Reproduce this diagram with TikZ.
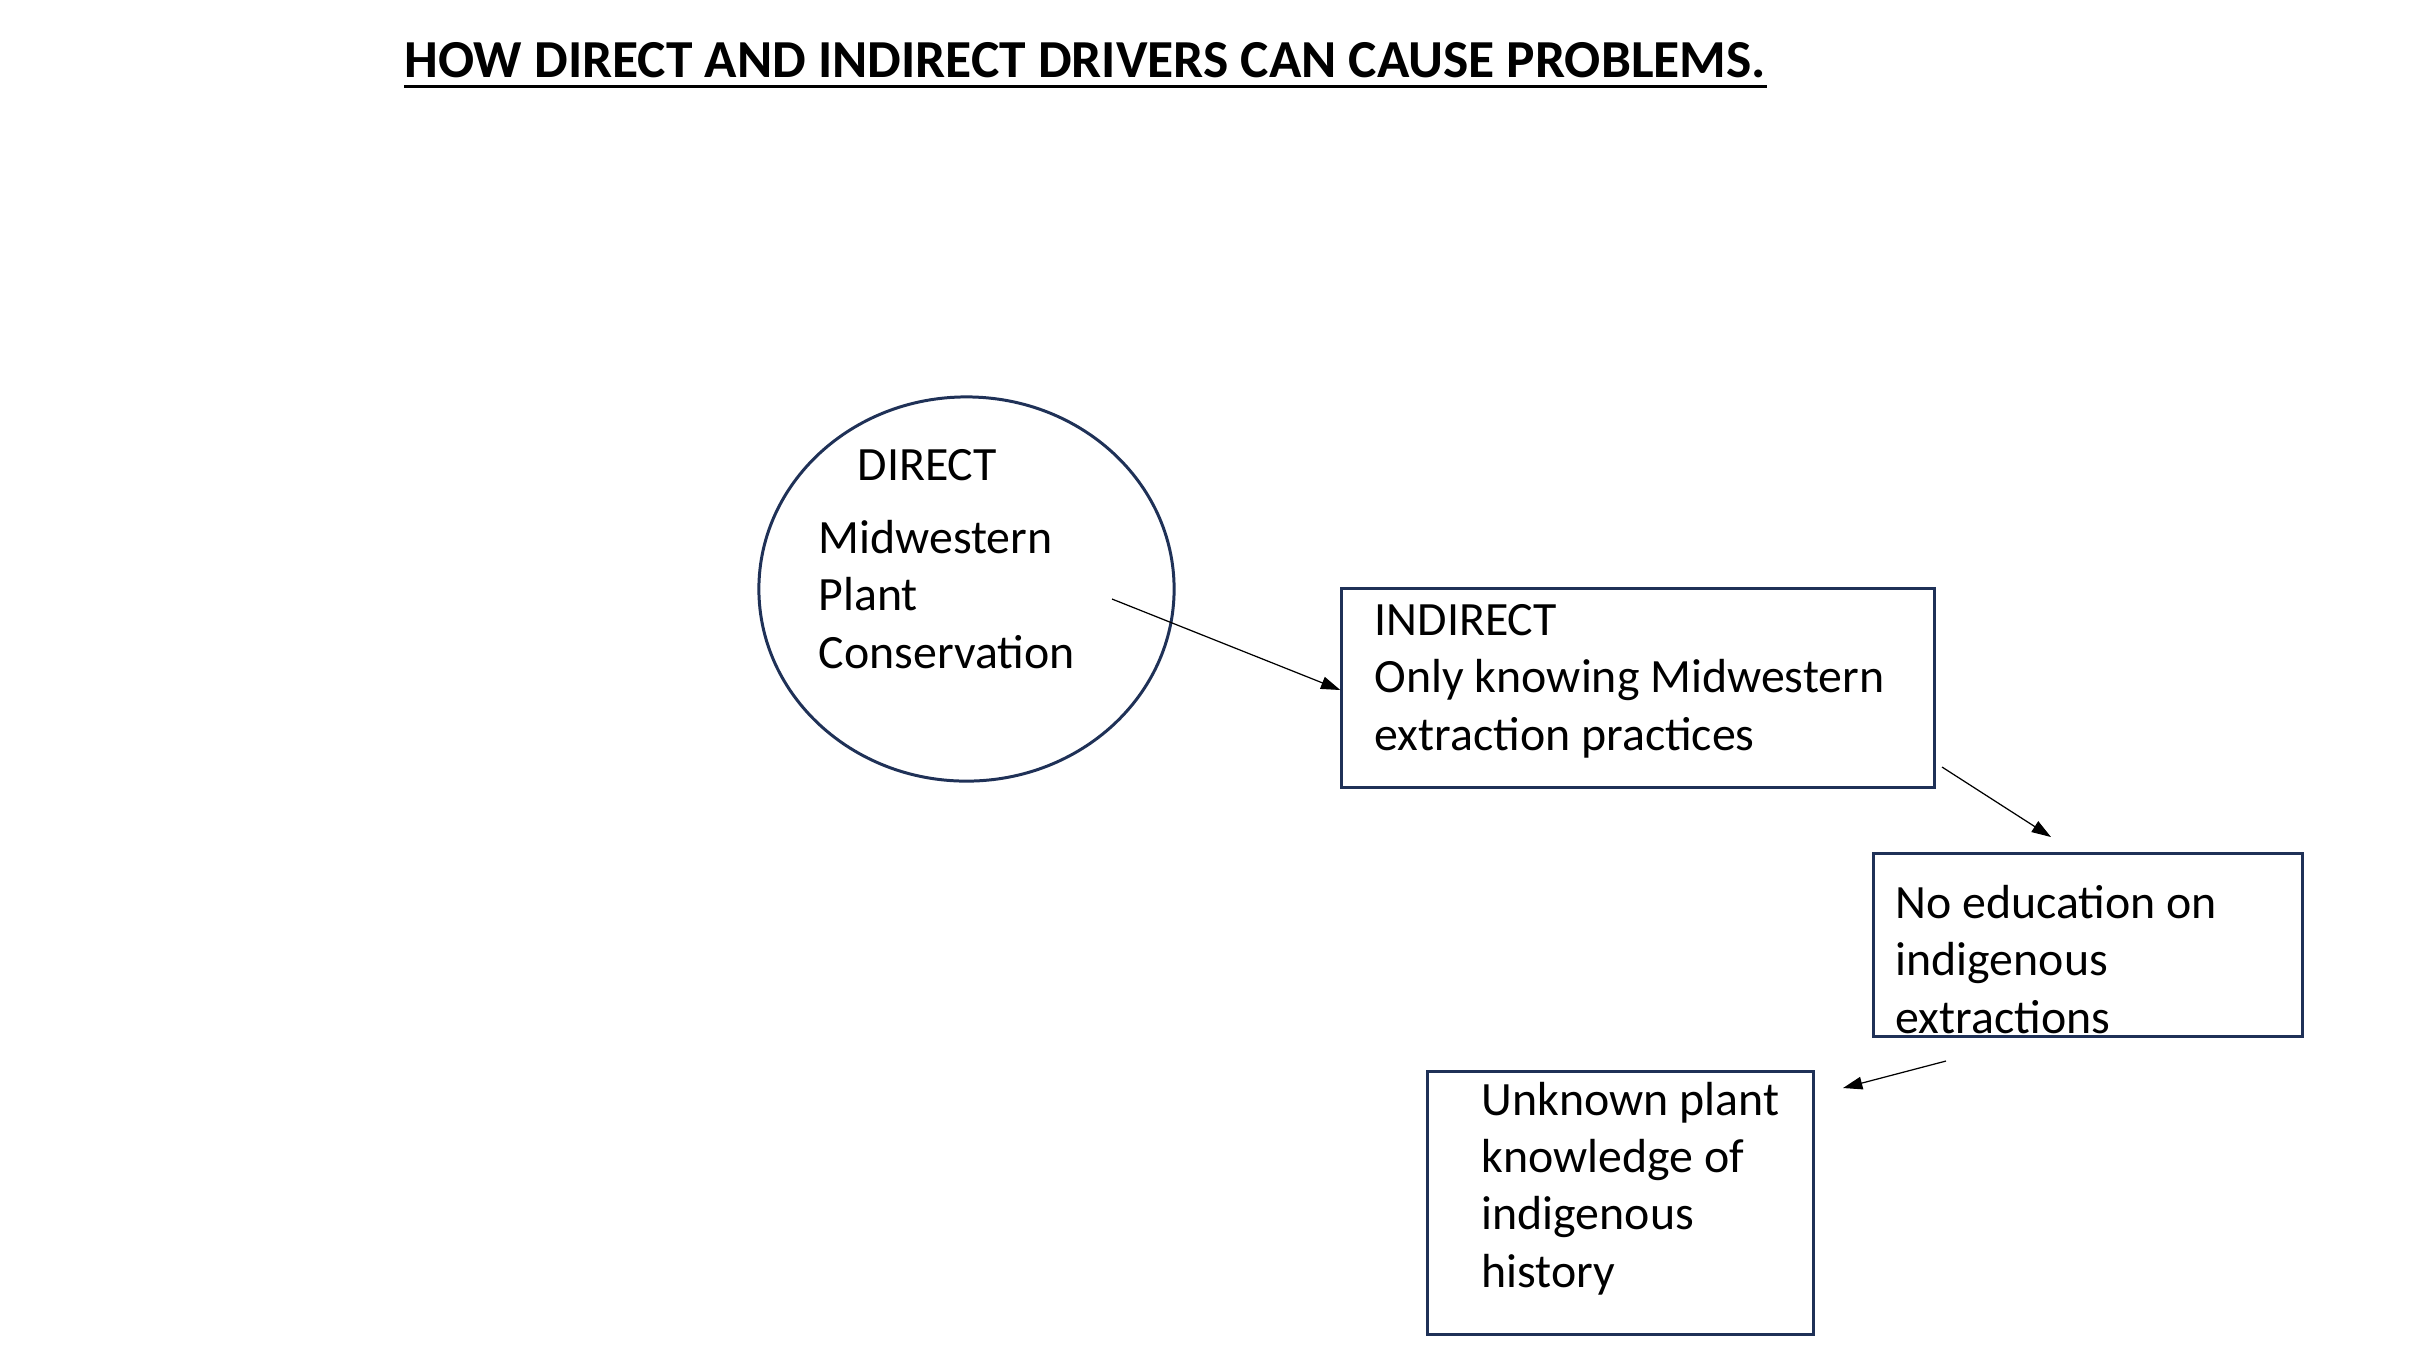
\documentclass[tikz,border=0pt]{standalone}
\usepackage{fontspec}
\setmainfont{Carlito}
\usetikzlibrary{arrows.meta,shapes.geometric,calc}
\definecolor{navy}{HTML}{1F3157}
\begin{document}
\begin{tikzpicture}[x=0.01cm,y=-0.01cm,
  shapeline/.style={draw=navy,line width=0.85pt},
  txt/.style={inner sep=0pt,anchor=base west,align=left,font=\fontsize{13.6}{16.25}\selectfont},
  conn/.style={draw=black,line width=0.35pt,-{Triangle[length=5.5pt,width=3.6pt]}}]
\useasboundingbox (0,0) rectangle (2415,1359);
% title
\node[inner sep=0pt,anchor=base west,font=\fontsize{15.2}{18}\selectfont\bfseries] (title) at (404,77) {HOW DIRECT AND INDIRECT DRIVERS CAN CAUSE PROBLEMS.};
\draw[line width=0.85pt] ([yshift=-2.6pt]title.base west) -- ([yshift=-2.6pt]title.base east);
% ellipse
\node[shapeline,ellipse,minimum width=4.15cm,minimum height=3.84cm,inner sep=0pt] (direct) at (966.5,589) {};
\node[txt] (directlbl) at (857,480) {DIRECT};
\node[txt] (directtxt) at (818,668) {Midwestern\\Plant\\Conservation};
% box 2
\node[shapeline,rectangle,minimum width=5.92cm,minimum height=1.98cm,inner sep=0pt] (indirect) at (1638,688) {};
\node[txt] (indirecttxt) at (1374,750) {INDIRECT\\Only knowing Midwestern\\extraction practices};
% box 3
\node[shapeline,rectangle,minimum width=4.28cm,minimum height=1.82cm,inner sep=0pt] (noedu) at (2088,945) {};
\node[txt] (noedutxt) at (1895,1033) {No education on\\indigenous\\extractions};
% box 4
\node[shapeline,rectangle,minimum width=3.85cm,minimum height=2.62cm,inner sep=0pt] (unknown) at (1620.5,1203) {};
\node[txt] (unknowntxt) at (1481,1287) {Unknown plant\\knowledge of\\indigenous\\history};
% connectors
\coordinate (a1s) at (1112,599);
\coordinate (a2s) at (1942,767);
\coordinate (a2e) at (2051,837);
\coordinate (a3s) at (1946,1061);
\coordinate (a3e) at (1843,1088);
\draw[conn] (a1s) -- (indirect.west |- 0,690);
\draw[conn] (a2s) -- (a2e);
\draw[conn] (a3s) -- (a3e);
\end{tikzpicture}
\end{document}
